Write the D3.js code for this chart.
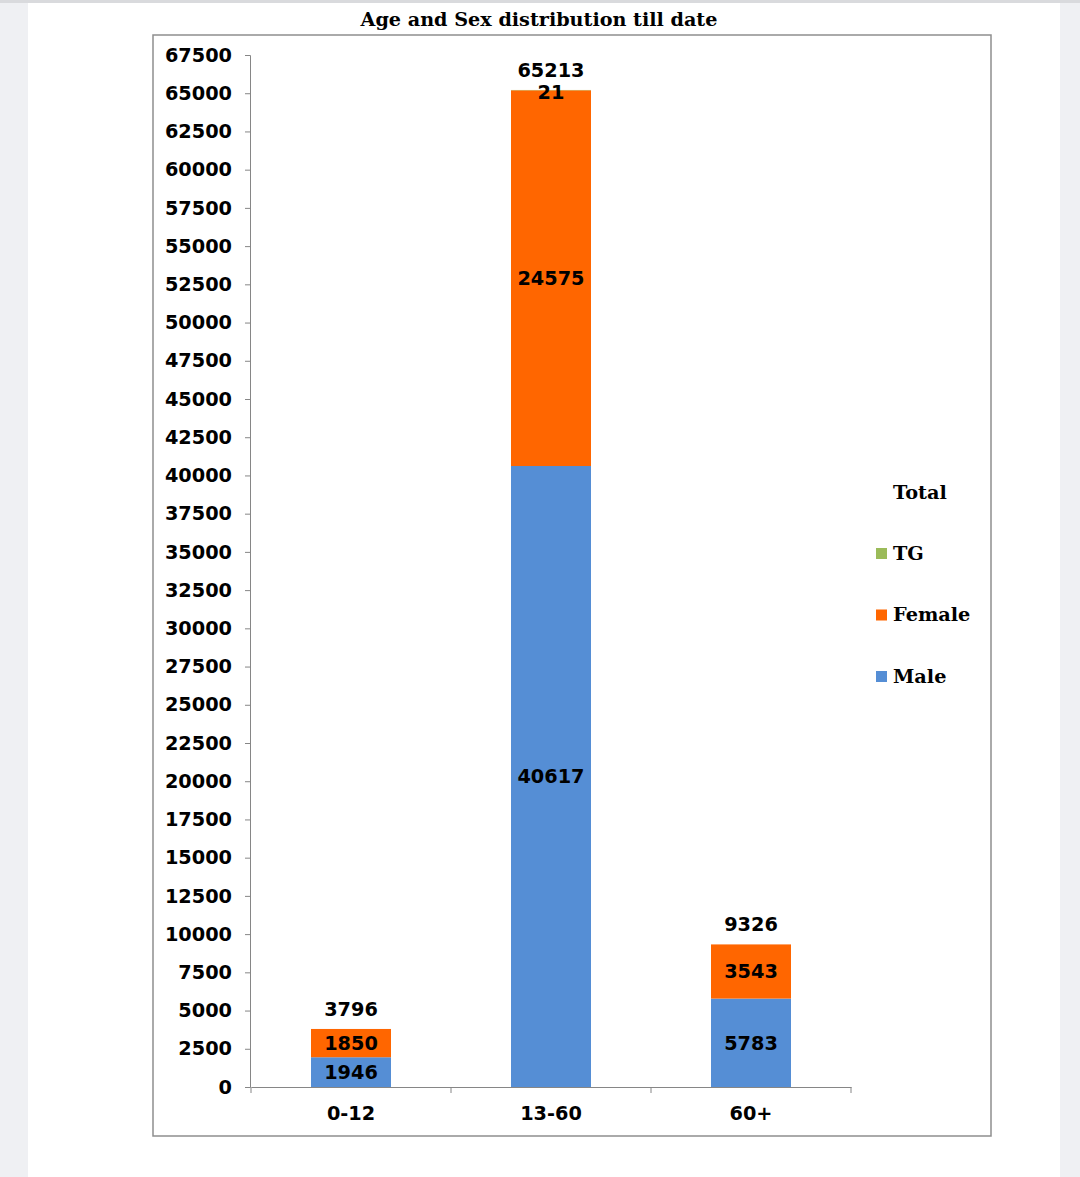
<!DOCTYPE html>
<html>
<head>
<meta charset="utf-8">
<script src="https://cdn.jsdelivr.net/npm/d3@7"></script>
<style>
  body { margin: 0; background: #eff0f3; }
  #chart { position: absolute; left: 0; top: 0; }
</style>
</head>
<body>
<div id="chart"></div>
<script>
var categories = ['0-12', '13-60', '60+']
var male = [1946, 40617, 5783]
var female = [1850, 24575, 3543]
var tg = [0, 21, 0]
var totals = [3796, 65213, 9326]
var yTicks = d3.range(0, 67501, 2500)
var seriesNames = ['Male', 'Female', 'TG']
var seriesColors = ['#558ed5', '#ff6600', '#9bbb59']

var fontSize = 19.3

var svg = d3
  .select('#chart')
  .append('svg')
  .attr('width', 1080)
  .attr('height', 1177)

// page
svg.append('rect').attr('x', 28).attr('y', 3).attr('width', 1032).attr('height', 1174).attr('fill', '#fff')
svg.append('rect').attr('x', 0).attr('y', 0).attr('width', 1080).attr('height', 3).attr('fill', '#d9dadd')

// chart frame
svg.append('rect')
  .attr('x', 153).attr('y', 35).attr('width', 838).attr('height', 1101)
  .attr('fill', 'none').attr('stroke', '#8e8e8e').attr('stroke-width', 1.5)

svg.append('text')
  .attr('x', 539).attr('y', 26)
  .attr('text-anchor', 'middle')
  .attr('font-family', 'DejaVu Serif')
  .attr('font-weight', 'bold')
  .attr('font-size', 19.2)
  .text('Age and Sex distribution till date')

var yScale = d3.scaleLinear().domain([0, 67500]).range([1087, 55])
var xScale = d3.scaleBand().domain(categories).range([251, 851]).paddingInner(0.6).paddingOuter(0.3)

var g = svg.append('g')

// y axis
var yAxis = g.append('g')
  .attr('transform', 'translate(250,0)')
  .call(d3.axisLeft(yScale).tickValues(yTicks).tickSize(5).tickPadding(13).tickFormat(d3.format('d')))
yAxis.selectAll('path, line').attr('stroke', '#868686')
yAxis.selectAll('text')
  .attr('font-family', 'DejaVu Sans').attr('font-weight', 'bold').attr('font-size', fontSize).attr('fill', '#000')

// x axis
var xAxis = g.append('g')
  .attr('transform', 'translate(0,1087)')
  .call(d3.axisBottom(xScale).tickSize(0).tickPadding(19))
xAxis.select('path').attr('stroke', '#868686')
xAxis.selectAll('text')
  .attr('font-family', 'DejaVu Sans').attr('font-weight', 'bold').attr('font-size', fontSize).attr('fill', '#000')
g.selectAll('.xtick')
  .data([251, 451, 651, 851])
  .enter()
  .append('line')
  .attr('class', 'xtick')
  .attr('x1', d => d).attr('x2', d => d)
  .attr('y1', 1087).attr('y2', 1093)
  .attr('stroke', '#868686')

// stacked bars
var rows = categories.map((c, i) => ({ cat: c, Male: male[i], Female: female[i], TG: tg[i], total: totals[i] }))
var stack = d3.stack().keys(seriesNames)(rows)

stack.forEach((layer, li) => {
  g.selectAll('.bar-' + layer.key)
    .data(layer)
    .enter()
    .append('rect')
    .attr('x', d => xScale(d.data.cat))
    .attr('width', xScale.bandwidth())
    .attr('y', d => yScale(d[1]))
    .attr('height', d => yScale(d[0]) - yScale(d[1]))
    .attr('fill', seriesColors[li])

  // the tiny TG segment gets its label nudged just under the bar top
  g.selectAll('.lbl-' + layer.key)
    .data(layer.filter(d => d[1] - d[0] > 0))
    .enter()
    .append('text')
    .attr('x', d => xScale(d.data.cat) + xScale.bandwidth() / 2)
    .attr('y', d => (yScale(d[0]) + yScale(d[1])) / 2 + (layer.key === 'TG' ? 2 : 0))
    .attr('dy', '0.36em')
    .attr('text-anchor', 'middle')
    .attr('font-family', 'DejaVu Sans').attr('font-weight', 'bold').attr('font-size', fontSize)
    .text(d => d[1] - d[0])
})

// totals
g.selectAll('.total')
  .data(rows)
  .enter()
  .append('text')
  .attr('x', d => xScale(d.cat) + xScale.bandwidth() / 2)
  .attr('y', d => yScale(d.total) - 20)
  .attr('dy', '0.36em')
  .attr('text-anchor', 'middle')
  .attr('font-family', 'DejaVu Sans').attr('font-weight', 'bold').attr('font-size', fontSize)
  .text(d => d.total)

// legend
var legend = svg.append('g')
legend.append('text')
  .attr('x', 893).attr('y', 499)
  .attr('font-family', 'DejaVu Serif').attr('font-weight', 'bold').attr('font-size', fontSize)
  .text('Total')

var legendItems = legend.selectAll('.item')
  .data(seriesNames.slice().reverse())
  .enter()
  .append('g')
  .attr('transform', (d, i) => 'translate(876,' + (553 + i * 61.5) + ')')
legendItems.append('rect')
  .attr('x', 0).attr('y', -5).attr('width', 11).attr('height', 11)
  .attr('fill', d => seriesColors[seriesNames.indexOf(d)])
legendItems.append('text')
  .attr('x', 17).attr('y', 0).attr('dy', '0.36em')
  .attr('font-family', 'DejaVu Serif').attr('font-weight', 'bold').attr('font-size', fontSize)
  .text(d => d)
</script>
</body>
</html>
